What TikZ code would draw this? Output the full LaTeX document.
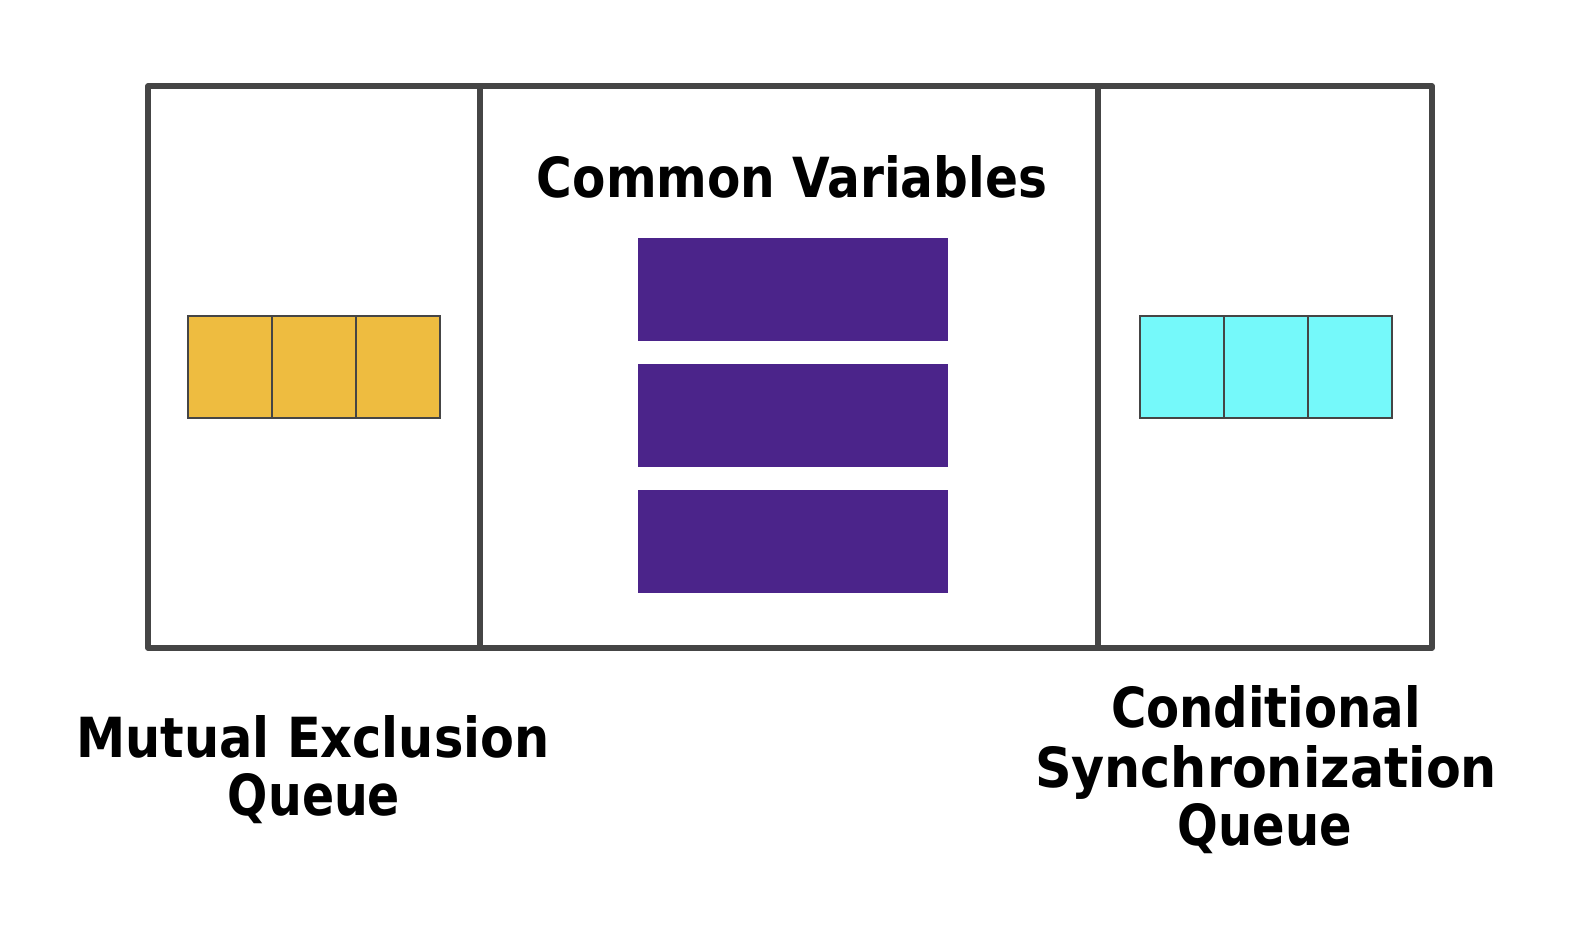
\documentclass[tikz,border=0pt]{standalone}
\usepackage{fontspec}
\setmainfont{DejaVu Sans}
\usepackage{graphicx}
\definecolor{frame}{HTML}{454545}
\definecolor{qyellow}{HTML}{EEBC40}
\definecolor{qcyan}{HTML}{75F9FA}
\definecolor{vpurple}{HTML}{4B248A}
\tikzset{
  frameline/.style={draw=frame,line width=5.5bp,line cap=round,line join=round},
  cell/.style={draw=frame,line width=1.5bp,minimum width=84bp,minimum height=102bp,inner sep=0pt,outer sep=0pt},
  varbar/.style={fill=vpurple,draw=none,minimum width=310bp,minimum height=103bp,inner sep=0pt},
  label/.style={anchor=base,inner sep=0pt,font=\bfseries}
}
\begin{document}
\begin{tikzpicture}[x=1bp,y=-1bp]
\useasboundingbox (0,0) rectangle (1572,928);
% frame
\coordinate (tl) at (148,86);
\coordinate (br) at (1432,648);
\coordinate (d1t) at (480,86);
\coordinate (d1b) at (480,648);
\coordinate (d2t) at (1098,86);
\coordinate (d2b) at (1098,648);
\draw[frameline] (tl) rectangle (br);
\draw[frameline] (d1t) -- (d1b);
\draw[frameline] (d2t) -- (d2b);
% mutual exclusion queue
\node[cell,fill=qyellow] (y1) at (230,367) {};
\node[cell,fill=qyellow] (y2) at (314,367) {};
\node[cell,fill=qyellow] (y3) at (398,367) {};
% conditional queue
\node[cell,fill=qcyan] (c1) at (1182,367) {};
\node[cell,fill=qcyan] (c2) at (1266,367) {};
\node[cell,fill=qcyan] (c3) at (1350,367) {};
% common variables
\node[varbar] (v1) at (793,289.5) {};
\node[varbar] (v2) at (793,415.5) {};
\node[varbar] (v3) at (793,541.5) {};
% labels
\node[label] (tcv) at (792,197) {\resizebox{510bp}{42bp}{Common Variables}};
\node[label] (tme1) at (313,757) {\resizebox{473bp}{42bp}{Mutual Exclusion}};
\node[label] (tme2) at (314,815) {\resizebox{172bp}{42bp}{Queue}};
\node[label] (tcs1) at (1266,727) {\resizebox{310bp}{42bp}{Conditional}};
\node[label] (tcs2) at (1266,787) {\resizebox{462bp}{42bp}{Synchronization}};
\node[label] (tcs3) at (1265,845) {\resizebox{174bp}{42bp}{Queue}};
\end{tikzpicture}
\end{document}
